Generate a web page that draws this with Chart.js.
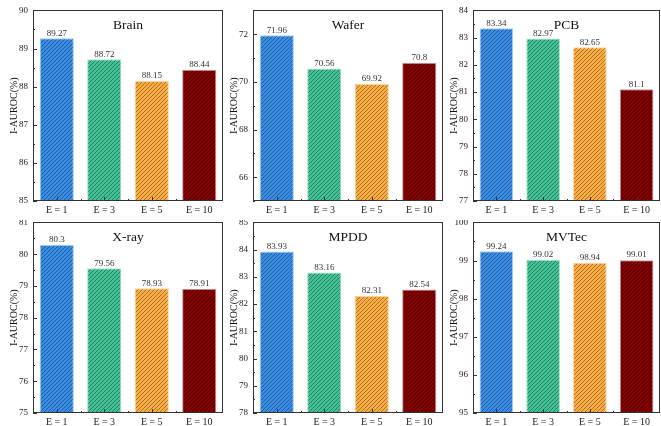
<!DOCTYPE html>
<html><head><meta charset="utf-8">
<script src="https://cdn.jsdelivr.net/npm/chart.js@4/dist/chart.umd.min.js"></script>
<style>
html,body{margin:0;padding:0;background:#fff;width:661px;height:426px;overflow:hidden;position:relative}
canvas{position:absolute}
#strip{position:absolute;left:0;top:214px;width:661px;height:6px;background:#fff;z-index:1}
</style></head><body>
<div id="strip"></div>
<script>
const categories = ['E = 1', 'E = 3', 'E = 5', 'E = 10'];
const brainValues = [89.27, 88.72, 88.15, 88.44];
const waferValues = [71.96, 70.56, 69.92, 70.8];
const pcbValues = [83.34, 82.97, 82.65, 81.1];
const xrayValues = [80.3, 79.56, 78.93, 78.91];
const mpddValues = [83.93, 83.16, 82.31, 82.54];
const mvtecValues = [99.24, 99.02, 98.94, 99.01];
const brainTicks = [85, 86, 87, 88, 89, 90];
const waferTicks = [66, 68, 70, 72];
const pcbTicks = [77, 78, 79, 80, 81, 82, 83, 84];
const xrayTicks = [75, 76, 77, 78, 79, 80, 81];
const mpddTicks = [78, 79, 80, 81, 82, 83, 84, 85];
const mvtecTicks = [95, 96, 97, 98, 99, 100];
const panelTitles = ['Brain', 'Wafer', 'PCB', 'X-ray', 'MPDD', 'MVTec'];
const yTitle = 'I-AUROC(%)';

const FONT = "'Liberation Serif','Times New Roman',serif";

function hatch(base, line) {
  const s = 4;
  const c = document.createElement('canvas'); c.width = s; c.height = s;
  const g = c.getContext('2d');
  g.fillStyle = base; g.fillRect(0, 0, s, s);
  g.strokeStyle = line; g.lineWidth = 1;
  g.beginPath();
  g.moveTo(0, s); g.lineTo(s, 0);
  g.moveTo(-1, 1); g.lineTo(1, -1);
  g.moveTo(s - 1, s + 1); g.lineTo(s + 1, s - 1);
  g.stroke();
  return g.createPattern(c, 'repeat');
}
const fills = [
  hatch('#3a8de0', '#1d5ca6'),
  hatch('#44c295', '#22805e'),
  hatch('#f7ae48', '#b3701b'),
  hatch('#860000', '#4a0000')
];
const borders = ['#a9d0f3', '#a8e2cb', '#fbd69c', '#c99a9a'];

const panels = [
  {vals: brainValues, ticks: brainTicks, min: 85, max: 90, L: 0, T: 0, pl: 33, pr: 223},
  {vals: waferValues, ticks: waferTicks, min: 65, max: 73, L: 225, T: 0, pl: 253, pr: 443},
  {vals: pcbValues, ticks: pcbTicks, min: 77, max: 84, L: 445, T: 0, pl: 473, pr: 660},
  {vals: xrayValues, ticks: xrayTicks, min: 75, max: 81, L: 0, T: 212, pl: 33, pr: 223},
  {vals: mpddValues, ticks: mpddTicks, min: 78, max: 85, L: 225, T: 212, pl: 253, pr: 443},
  {vals: mvtecValues, ticks: mvtecTicks, min: 95, max: 100, L: 445, T: 212, pl: 473, pr: 660}
];

panels.forEach((p, idx) => {
  const cw = (idx % 3 === 2) ? 661 - p.L : (p.pr + 2 - p.L);
  const ch = 216;
  const cv = document.createElement('canvas');
  cv.width = cw; cv.height = ch;
  cv.style.left = p.L + 'px'; cv.style.top = p.T + 'px';
  cv.style.width = cw + 'px'; cv.style.height = ch + 'px';
  cv.style.zIndex = p.T === 0 ? 2 : 0;
  document.body.appendChild(cv);
  const axisW = p.pl - p.L;
  const title = panelTitles[idx];

  const deco = {
    id: 'deco' + idx,
    afterDraw(chart) {
      const ctx = chart.ctx, a = chart.chartArea;
      const xs = chart.scales.x, ys = chart.scales.y;
      ctx.save();
      ctx.strokeStyle = '#333'; ctx.lineWidth = 1;
      ctx.strokeRect(Math.round(a.left) + 0.5, Math.round(a.top) + 0.5, Math.round(a.right - a.left) - 1, Math.round(a.bottom - a.top) - 1);
      ctx.beginPath();
      const tk = p.ticks;
      const step = tk[1] - tk[0];
      tk.forEach(v => { const y = Math.round(ys.getPixelForValue(v)) + 0.5; ctx.moveTo(a.left, y); ctx.lineTo(a.left + 4, y); });
      const minors = [];
      for (let v = tk[0] - step / 2; v <= p.max + 1e-9; v += step) { if (v >= p.min - 1e-9) minors.push(v); }
      minors.forEach(v => { const y = Math.round(ys.getPixelForValue(v)) + 0.5; ctx.moveTo(a.left, y); ctx.lineTo(a.left + 2, y); });
      const n = categories.length;
      for (let i = 0; i < n; i++) {
        const x = Math.round(xs.getPixelForValue(i)) + 0.5;
        ctx.moveTo(x, a.bottom); ctx.lineTo(x, a.bottom - 4);
      }
      for (let i = 1; i < n; i++) {
        const x = Math.round((xs.getPixelForValue(i - 1) + xs.getPixelForValue(i)) / 2) + 0.5;
        ctx.moveTo(x, a.bottom); ctx.lineTo(x, a.bottom - 2);
      }
      ctx.stroke();
      ctx.fillStyle = '#111';
      ctx.font = '13.5px ' + FONT;
      ctx.textAlign = 'center'; ctx.textBaseline = 'middle';
      ctx.fillText(title, (a.left + a.right) / 2, a.top + 15);
      ctx.font = '9px ' + FONT;
      ctx.fillStyle = '#333';
      ctx.textBaseline = 'bottom';
      const meta = chart.getDatasetMeta(0);
      meta.data.forEach((bar, i) => {
        ctx.fillText(String(p.vals[i]), bar.x, bar.y - 0.5);
      });
      ctx.translate(a.left - 19, (a.top + a.bottom) / 2);
      ctx.rotate(-Math.PI / 2);
      ctx.font = '10px ' + FONT;
      ctx.fillStyle = '#111';
      ctx.textBaseline = 'middle';
      ctx.fillText(yTitle, 0, 0);
      ctx.restore();
    }
  };

  new Chart(cv, {
    type: 'bar',
    data: {
      labels: categories,
      datasets: [{
        data: p.vals,
        backgroundColor: fills,
        borderColor: borders,
        borderWidth: 1,
        barPercentage: 0.72,
        categoryPercentage: 1
      }]
    },
    options: {
      responsive: false, animation: false, devicePixelRatio: 1,
      layout: {padding: {top: 10, right: cw - (p.pr - p.L), bottom: 0, left: 0}},
      plugins: {legend: {display: false}, tooltip: {enabled: false}},
      scales: {
        x: {
          type: 'category', offset: true,
          grid: {display: false, drawTicks: false}, border: {display: false},
          ticks: {font: {family: FONT, size: 10}, color: '#222', padding: 3, maxRotation: 0, autoSkip: false},
          afterFit(s) { s.height = 15; }
        },
        y: {
          min: p.min, max: p.max,
          grid: {display: false, drawTicks: false}, border: {display: false},
          afterBuildTicks(s) { s.ticks = p.ticks.map(v => ({value: v})); },
          ticks: {font: {family: FONT, size: 9}, color: '#222', padding: 5},
          afterFit(s) { s.width = axisW; }
        }
      }
    },
    plugins: [deco]
  });
});
</script>
</body></html>
